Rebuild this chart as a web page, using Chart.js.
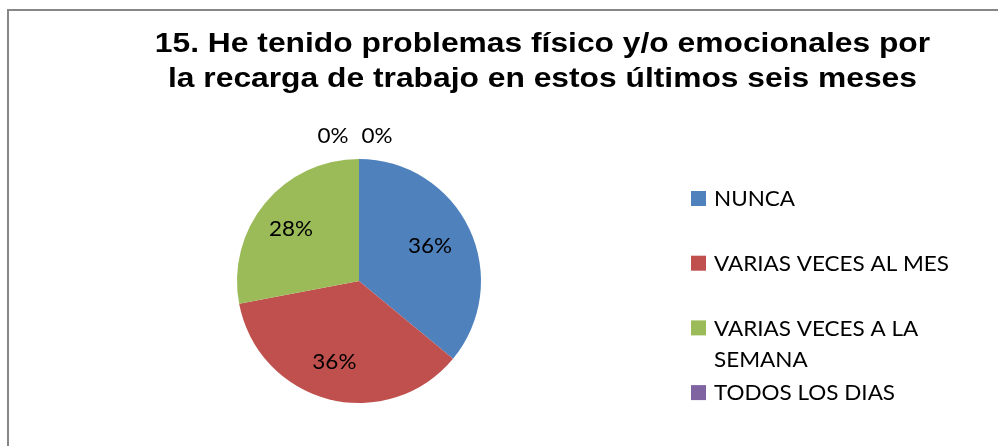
<!DOCTYPE html>
<html>
<head>
<meta charset="utf-8">
<script src="https://cdn.jsdelivr.net/npm/chart.js@4/dist/chart.umd.min.js"></script>
<style>
  html, body { margin: 0; padding: 0; background: #fff; overflow: hidden; }
  #wrap { position: relative; width: 998px; height: 446px; }
  #frame {
    position: absolute; left: 7px; top: 9px; right: -10px; bottom: -10px;
    border-left: 2px solid #878787; border-top: 2px solid #878787;
    pointer-events: none;
  }
</style>
</head>
<body>
<div id="wrap">
  <canvas id="pieChart"></canvas>
  <div id="frame"></div>
</div>
<script>
// Datos del gráfico
const titleLines = [
  "15. He tenido problemas físico y/o emocionales por",
  "la recarga de trabajo en estos últimos seis meses"
];
const categories = ["NUNCA", "VARIAS VECES AL MES", "VARIAS VECES A LA SEMANA", "TODOS LOS DIAS", ""];
const counts = [9, 9, 7, 0, 0];
const colors = ["#4F81BD", "#C0504D", "#9BBB59", "#8064A2", "#4BACC6"];

const labelFont = "21px Lato";
const stretch = 1.07; // el original está algo estirado a lo ancho

// texto con estiramiento horizontal
function drawText(ctx, txt, x, y, sx) {
  ctx.save();
  ctx.translate(x, y);
  ctx.scale(sx, 1);
  ctx.fillText(txt, 0, 0);
  ctx.restore();
}

// Título dibujado arriba, centrado como en el original
const titlePlugin = {
  id: "titleText",
  afterDraw(chart) {
    const ctx = chart.ctx;
    ctx.save();
    ctx.fillStyle = "#000";
    ctx.font = "bold 28px Arial, \"Liberation Sans\", sans-serif";
    ctx.textAlign = "center";
    ctx.textBaseline = "alphabetic";
    titleLines.forEach((line, i) => drawText(ctx, line, 542.5, 52 + i * 34.5, 1.135));
    ctx.restore();
  }
};

// Porcentajes sobre cada porción
const percentPlugin = {
  id: "percentLabels",
  afterDatasetsDraw(chart) {
    const ctx = chart.ctx;
    const meta = chart.getDatasetMeta(0);
    const data = chart.data.datasets[0].data;
    const total = data.reduce((a, b) => a + b, 0);
    ctx.save();
    ctx.fillStyle = "#000";
    ctx.font = labelFont;
    ctx.textAlign = "center";
    ctx.textBaseline = "middle";
    const zeros = [];
    meta.data.forEach((arc, i) => {
      const p = arc.getProps(["x", "y", "startAngle", "endAngle", "outerRadius"], true);
      const txt = Math.round(data[i] / total * 100) + "%";
      if (data[i] === 0) { zeros.push({ p, txt }); return; }
      const mid = (p.startAngle + p.endAngle) / 2;
      const r = p.outerRadius * 0.68;
      drawText(ctx, txt, p.x + Math.cos(mid) * r - 4, p.y + Math.sin(mid) * r + 1, stretch);
    });
    // las porciones vacías van fuera, arriba del círculo
    zeros.forEach((z, k) => {
      const off = (k - (zeros.length - 1) / 2) * 44 - 4;
      drawText(ctx, z.txt, z.p.x + off, z.p.y - z.p.outerRadius - 23, stretch);
    });
    ctx.restore();
  }
};

// Leyenda a la derecha con ajuste de línea
const legendPlugin = {
  id: "sideLegend",
  afterDraw(chart) {
    const ctx = chart.ctx;
    const x = 691, top0 = 191, pitch = 64.7, lineH = 31, maxW = 250;
    ctx.save();
    ctx.font = labelFont;
    ctx.textAlign = "left";
    ctx.textBaseline = "alphabetic";
    let row = 0;
    chart.data.labels.forEach((lab, i) => {
      if (!lab) return;
      const y = top0 + row * pitch;
      ctx.fillStyle = chart.data.datasets[0].backgroundColor[i];
      ctx.fillRect(x, y, 15, 15);
      // partir el texto en líneas
      const words = lab.split(" ");
      const lines = [];
      let cur = "";
      words.forEach(w => {
        const test = cur ? cur + " " + w : w;
        if (ctx.measureText(test).width > maxW && cur) { lines.push(cur); cur = w; }
        else cur = test;
      });
      lines.push(cur);
      ctx.fillStyle = "#000";
      lines.forEach((ln, j) => drawText(ctx, ln, x + 23, y + 15.3 + j * lineH, stretch));
      row++;
    });
    ctx.restore();
  }
};

new Chart(document.getElementById("pieChart"), {
  type: "pie",
  data: {
    labels: categories,
    datasets: [{
      data: counts,
      backgroundColor: colors,
      borderWidth: 0
    }]
  },
  options: {
    responsive: true,
    maintainAspectRatio: false,
    animation: false,
    layout: { padding: { top: 159, bottom: 43, left: 237, right: 517 } },
    plugins: {
      legend: { display: false },
      title: { display: false },
      tooltip: { enabled: false }
    }
  },
  plugins: [titlePlugin, percentPlugin, legendPlugin]
});
</script>
</body>
</html>
